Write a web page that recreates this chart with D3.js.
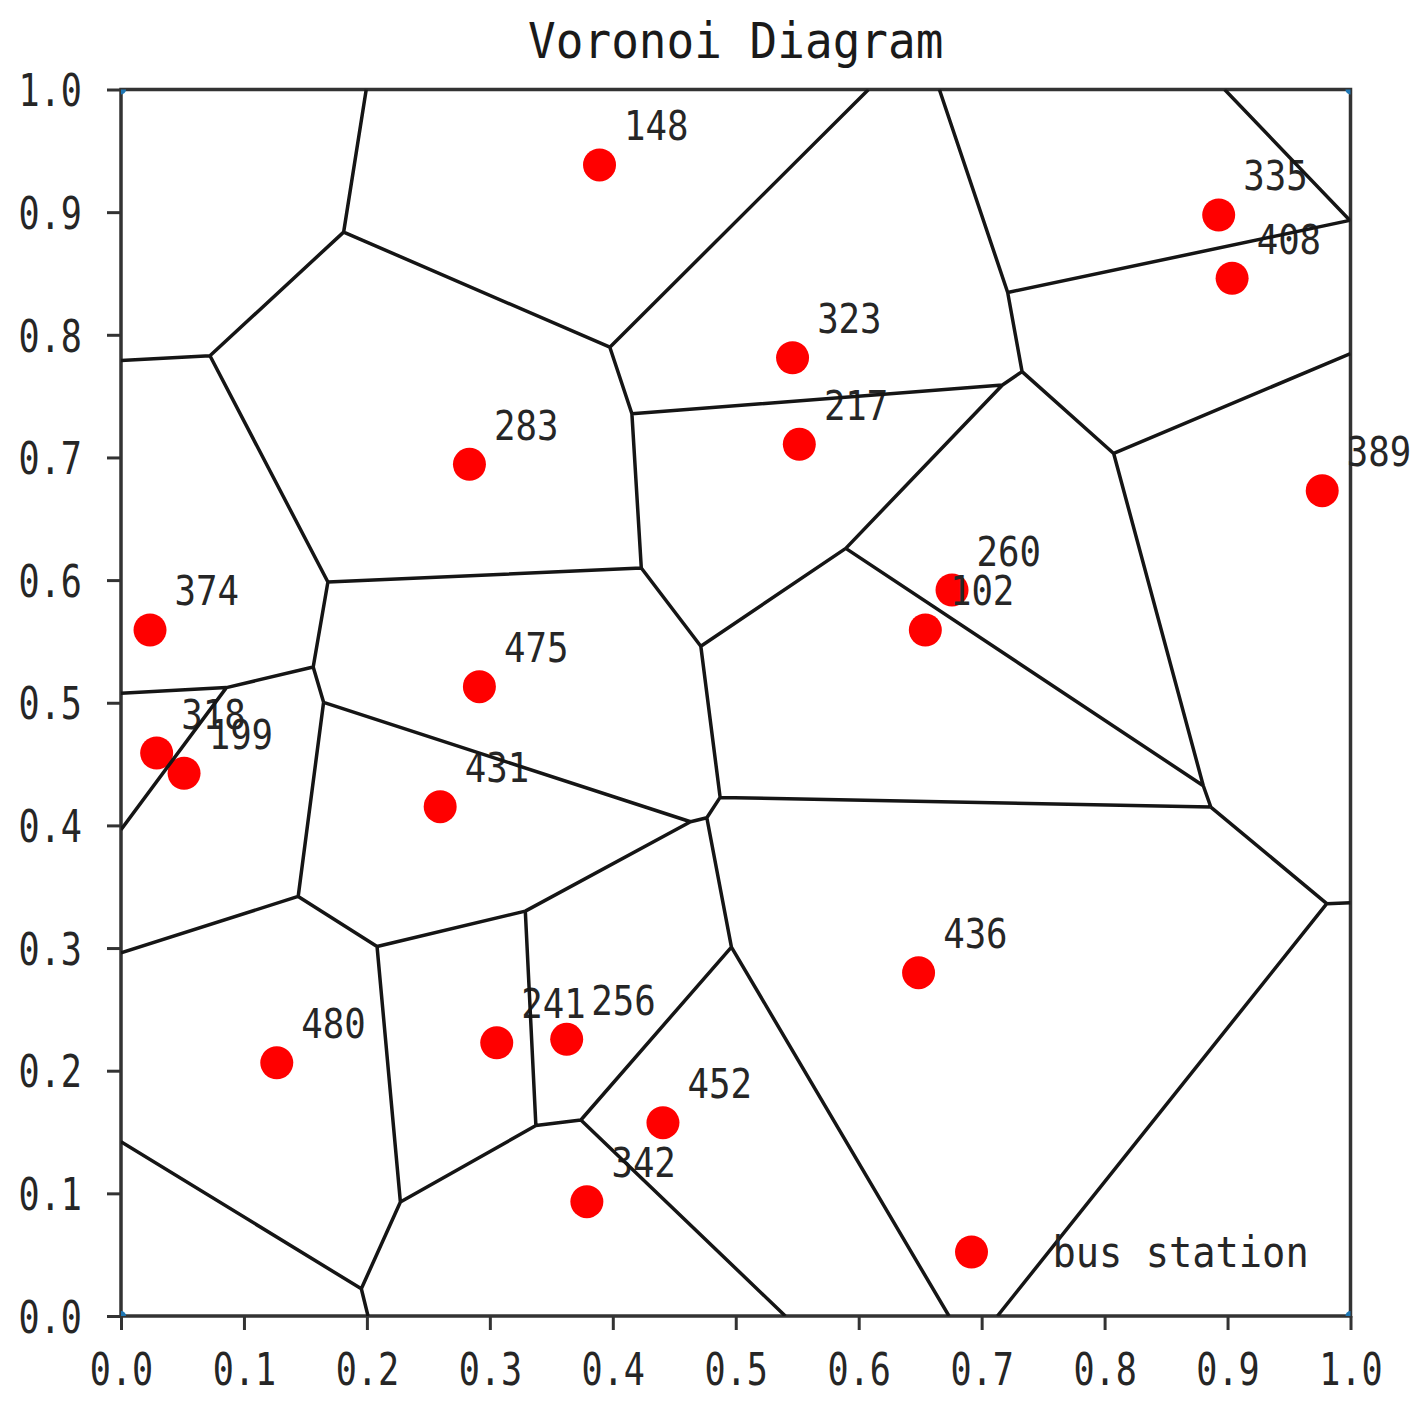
<!DOCTYPE html>
<html><head><meta charset="utf-8">
<script src="https://cdn.jsdelivr.net/npm/d3@7"></script>
<style>body{margin:0;background:#fff} svg{display:block}</style>
</head><body>
<svg id="chart" width="1418" height="1402"></svg>
<script>
// ---- data ----
const stationIds = ["148","335","408","323","217","283","389","260","102","374","475","318","199","431","436","480","241","256","452","342"];
const stationX = [0.3892,0.8928,0.9037,0.5462,0.5517,0.2834,0.9770,0.6759,0.6542,0.0236,0.2915,0.0290,0.0513,0.2596,0.6487,0.1267,0.3056,0.3625,0.4408,0.3789];
const stationY = [0.9385,0.8977,0.8461,0.7813,0.7107,0.6944,0.6729,0.5919,0.5593,0.5593,0.5131,0.4590,0.4425,0.4153,0.2799,0.2065,0.2228,0.2256,0.1576,0.0932];
// hidden corner sites used to build the diagram
const cornerX = [0, 0, 1, 1];
const cornerY = [0, 1, 0, 1];
const xTicks = [0,0.1,0.2,0.3,0.4,0.5,0.6,0.7,0.8,0.9,1.0];
const yTicks = [0,0.1,0.2,0.3,0.4,0.5,0.6,0.7,0.8,0.9,1.0];
const labelOffset = 0.02;
const titleText = "Voronoi Diagram";
const legendLabel = "bus station";

// ---- layout ----
const W = 1418, H = 1402;
const m = {l:121, r:67.5, t:89.5, b:86};
const svg = d3.select("#chart");
const x = d3.scaleLinear().domain([0,1]).range([m.l, W - m.r]);
const y = d3.scaleLinear().domain([0,1]).range([H - m.b, m.t]);
const FONT = "'DejaVu Sans Mono', 'Liberation Mono', monospace";
const INK = "#262626";

const stations = stationIds.map((id,i) => ({id, x: stationX[i], y: stationY[i]}));
const corners = cornerX.map((cx,i) => ({id:null, x: cx, y: cornerY[i]}));
const sites = stations.concat(corners);

svg.append("defs").append("clipPath").attr("id","plotclip")
  .append("rect").attr("x", x(0)).attr("y", y(1))
  .attr("width", x(1)-x(0)).attr("height", y(0)-y(1));

// axes
const xAxis = svg.append("g").attr("transform", `translate(0,${y(0)})`)
  .call(d3.axisBottom(x).tickValues(xTicks).tickFormat(d3.format(".1f")).tickSizeInner(14).tickSizeOuter(0));
const yAxis = svg.append("g").attr("transform", `translate(${x(0)},0)`)
  .call(d3.axisLeft(y).tickValues(yTicks).tickFormat(d3.format(".1f")).tickSizeInner(14).tickSizeOuter(0));
[xAxis, yAxis].forEach(g => {
  g.select(".domain").remove();
  g.selectAll(".tick line").attr("stroke", "#333").attr("stroke-width", 3);
  g.selectAll(".tick text").attr("fill", INK).attr("font-family", FONT).attr("font-size", 45);
});
xAxis.selectAll(".tick text").attr("x", 0).attr("y", 0).attr("dy", null)
  .attr("transform", "translate(0,69) scale(0.78,1)");
yAxis.selectAll(".tick text").attr("x", 0).attr("y", 0).attr("dy", "0.36em")
  .attr("transform", "translate(-39,0) scale(0.78,1)");

// plot frame (spines)
svg.append("rect").attr("x", x(0)).attr("y", y(1))
  .attr("width", x(1)-x(0)).attr("height", y(0)-y(1))
  .attr("fill", "none").attr("stroke", "#333").attr("stroke-width", 3.5);

// small blue site markers (clipped)
svg.append("g").attr("clip-path", "url(#plotclip)")
  .selectAll("circle").data(sites).join("circle")
  .attr("cx", d => x(d.x)).attr("cy", d => y(d.y)).attr("r", 5).attr("fill", "#1f77b4");

// red station dots
svg.append("g").selectAll("circle").data(stations).join("circle")
  .attr("cx", d => x(d.x)).attr("cy", d => y(d.y)).attr("r", 16.5).attr("fill", "#ff0000");

// labels
svg.append("g").selectAll("text").data(stations).join("text")
  .attr("transform", d => `translate(${x(d.x + labelOffset)},${y(d.y + labelOffset)}) scale(0.87,1)`)
  .attr("font-family", FONT).attr("font-size", 41).attr("fill", INK)
  .text(d => d.id);

// voronoi edges
const delaunay = d3.Delaunay.from(sites, d => d.x, d => d.y);
const vor = delaunay.voronoi([0, 0, 1, 1]);
const p = d3.path();
const ctx = {
  moveTo: (a, b) => p.moveTo(x(a), y(b)),
  lineTo: (a, b) => p.lineTo(x(a), y(b)),
  closePath: () => p.closePath()
};
vor.render(ctx);
svg.append("path").attr("d", p.toString())
  .attr("fill", "none").attr("stroke", "#151515").attr("stroke-width", 3.5)
  .attr("stroke-linejoin", "round").attr("clip-path", "url(#plotclip)");

// title
svg.append("text").attr("transform", `translate(${(x(0)+x(1))/2},58) scale(0.92,1)`)
  .attr("text-anchor", "middle").attr("font-family", FONT).attr("font-size", 50)
  .attr("fill", "#1a1a1a").text(titleText);

// legend (lower right, no frame)
const lg = svg.append("g").attr("transform", `translate(${x(1) - 379},${y(0) - 64})`);
lg.append("circle").attr("cx", 0).attr("cy", 0).attr("r", 16.5).attr("fill", "#ff0000");
lg.append("text").attr("transform", "translate(81,15) scale(0.9,1)")
  .attr("font-family", FONT).attr("font-size", 43).attr("fill", INK).text(legendLabel);
</script>
</body></html>
